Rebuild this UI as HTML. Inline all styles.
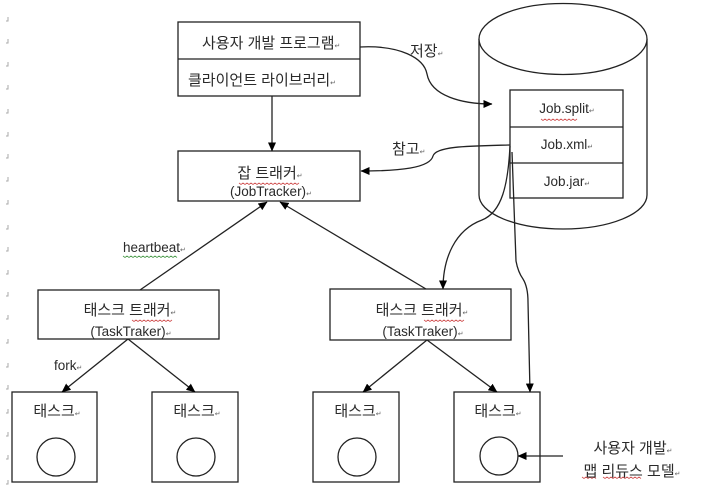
<!DOCTYPE html>
<html><head><meta charset="utf-8"><style>
html,body{margin:0;padding:0;background:#fff;}
svg{display:block;}
text{font-family:"Liberation Sans","Noto Sans CJK KR",sans-serif;font-size:13.5px;fill:#2a2a2a;}
text.k{font-size:15px;}
.p{font-family:"DejaVu Sans",sans-serif;font-size:7px;fill:#666;}
</style></head><body>
<svg width="704" height="491" viewBox="0 0 704 491" xmlns="http://www.w3.org/2000/svg">
<defs>
<marker id="a" markerWidth="9" markerHeight="8" refX="8.5" refY="4" orient="auto" markerUnits="userSpaceOnUse">
<path d="M0,0 L9,4 L0,8 Z" fill="#000"/></marker>
</defs>
<!-- left margin marks -->
<g stroke="#aaa" stroke-width="1" fill="none">
<path d="M8,17 L8,21 L6,21"/><path d="M8,39 L8,43 L6,43"/><path d="M8,62 L8,66 L6,66"/><path d="M8,85 L8,89 L6,89"/><path d="M8,109 L8,113 L6,113"/><path d="M8,132 L8,136 L6,136"/><path d="M8,154 L8,158 L6,158"/><path d="M8,177 L8,181 L6,181"/><path d="M8,200 L8,204 L6,204"/><path d="M8,225 L8,229 L6,229"/><path d="M8,247 L8,251 L6,251"/><path d="M8,270 L8,274 L6,274"/><path d="M8,292 L8,296 L6,296"/><path d="M8,315 L8,319 L6,319"/><path d="M8,339 L8,343 L6,343"/><path d="M8,363 L8,367 L6,367"/><path d="M8,385 L8,389 L6,389"/><path d="M8,409 L8,413 L6,413"/><path d="M8,432 L8,436 L6,436"/><path d="M8,455 L8,459 L6,459"/><path d="M8,480 L8,484 L6,484"/>
</g>

<g fill="none" stroke="#222" stroke-width="1.3">
<!-- cylinder -->
<path d="M479,39 L479,195 A84,34 0 0 0 647,195 L647,39" fill="#fff"/>
<ellipse cx="563" cy="39" rx="84" ry="35.5" fill="#fff"/>
<rect x="510" y="90" width="113" height="108" fill="#fff"/>
<line x1="510" y1="127" x2="623" y2="127"/>
<line x1="510" y1="163" x2="623" y2="163"/>

<!-- top box -->
<rect x="178" y="22" width="182" height="74" fill="#fff"/>
<line x1="178" y1="59" x2="360" y2="59"/>
<!-- job tracker -->
<rect x="178" y="151" width="182" height="50" fill="#fff"/>
<!-- task trackers -->
<rect x="38" y="290" width="181" height="49" fill="#fff"/>
<rect x="330" y="289" width="181" height="51" fill="#fff"/>
<!-- task boxes -->
<rect x="12" y="392" width="85" height="90"/>
<rect x="152" y="392" width="86" height="90"/>
<rect x="313" y="392" width="86" height="90"/>
<rect x="454" y="392" width="86" height="90"/>
<circle cx="56" cy="457" r="19"/>
<circle cx="196" cy="457" r="19"/>
<circle cx="357" cy="457" r="19"/>
<circle cx="499" cy="456" r="19"/>

<!-- arrows -->
<line x1="272" y1="96" x2="272" y2="151" marker-end="url(#a)"/>
<line x1="140" y1="290" x2="267" y2="202" marker-end="url(#a)"/>
<line x1="426" y1="289" x2="280" y2="202" marker-end="url(#a)"/>
<line x1="128" y1="339" x2="62" y2="392" marker-end="url(#a)"/>
<line x1="128" y1="339" x2="195" y2="392" marker-end="url(#a)"/>
<line x1="427" y1="340" x2="363" y2="392" marker-end="url(#a)"/>
<line x1="427" y1="340" x2="497" y2="392" marker-end="url(#a)"/>
<path d="M360,47 C400,45 424,58 427,74 C431,96 462,104 492,104" marker-end="url(#a)"/>
<path d="M510,145 C470,146 436,146 433,156 C430,168 400,171 361,171" marker-end="url(#a)"/>
<path d="M510,146 C508,185 502,212 482,220 C455,230 443,258 443,289" marker-end="url(#a)"/>
<path d="M512,152 L516,261 Q518,272 523,279 Q528,287 528,302 L530,392" marker-end="url(#a)"/>
<line x1="563" y1="456" x2="518" y2="456" marker-end="url(#a)"/>
</g>

<!-- spellcheck squiggles -->
<g fill="none" stroke-width="0.8">
<path d="M239,183 l2,1.5 l2,-1.5 l2,1.5 l2,-1.5 l2,1.5 l2,-1.5 l2,1.5 l2,-1.5 l2,1.5 l2,-1.5 l2,1.5 l2,-1.5 l2,1.5 l2,-1.5 l2,1.5 l2,-1.5 l2,1.5 l2,-1.5 l2,1.5 l2,-1.5 l2,1.5 l2,-1.5 l2,1.5 l2,-1.5 l2,1.5 l2,-1.5 l2,1.5 l2,-1.5 l2,1.5 l2,-1.5" stroke="#d05050"/>
<path d="M541,119 l2,1.5 l2,-1.5 l2,1.5 l2,-1.5 l2,1.5 l2,-1.5 l2,1.5 l2,-1.5 l2,1.5 l2,-1.5 l2,1.5 l2,-1.5 l2,1.5 l2,-1.5 l2,1.5 l2,-1.5 l2,1.5 l2,-1.5" stroke="#d05050"/>
<path d="M123,256 l2,1.5 l2,-1.5 l2,1.5 l2,-1.5 l2,1.5 l2,-1.5 l2,1.5 l2,-1.5 l2,1.5 l2,-1.5 l2,1.5 l2,-1.5 l2,1.5 l2,-1.5 l2,1.5 l2,-1.5 l2,1.5 l2,-1.5 l2,1.5 l2,-1.5 l2,1.5 l2,-1.5 l2,1.5 l2,-1.5 l2,1.5 l2,-1.5 l2,1.5" stroke="#4a9a4a"/>
<path d="M132,320 l2,1.5 l2,-1.5 l2,1.5 l2,-1.5 l2,1.5 l2,-1.5 l2,1.5 l2,-1.5 l2,1.5 l2,-1.5 l2,1.5 l2,-1.5 l2,1.5 l2,-1.5 l2,1.5 l2,-1.5 l2,1.5 l2,-1.5 l2,1.5 l2,-1.5" stroke="#d05050"/>
<path d="M424,320 l2,1.5 l2,-1.5 l2,1.5 l2,-1.5 l2,1.5 l2,-1.5 l2,1.5 l2,-1.5 l2,1.5 l2,-1.5 l2,1.5 l2,-1.5 l2,1.5 l2,-1.5 l2,1.5 l2,-1.5 l2,1.5 l2,-1.5 l2,1.5 l2,-1.5" stroke="#d05050"/>
<path d="M582,477 l2,1.5 l2,-1.5 l2,1.5 l2,-1.5 l2,1.5 l2,-1.5 l2,1.5" stroke="#d05050"/>
<path d="M603,477 l2,1.5 l2,-1.5 l2,1.5 l2,-1.5 l2,1.5 l2,-1.5 l2,1.5 l2,-1.5 l2,1.5 l2,-1.5 l2,1.5 l2,-1.5 l2,1.5 l2,-1.5 l2,1.5 l2,-1.5 l2,1.5 l2,-1.5 l2,1.5" stroke="#d05050"/>
</g>

<!-- text -->
<text class="k" x="202" y="48">사용자 개발 프로그램<tspan class="p">↵</tspan></text>
<text class="k" x="188" y="85">클라이언트 라이브러리<tspan class="p">↵</tspan></text>
<text class="k" x="270" y="178" text-anchor="middle">잡 트래커<tspan class="p">↵</tspan></text>
<text x="271" y="196" text-anchor="middle">(JobTracker)<tspan class="p">↵</tspan></text>
<text class="k" x="410" y="56">저장<tspan class="p">↵</tspan></text>
<text class="k" x="392" y="154">참고<tspan class="p">↵</tspan></text>
<text x="567" y="113" text-anchor="middle">Job.split<tspan class="p">↵</tspan></text>
<text x="567" y="149" text-anchor="middle">Job.xml<tspan class="p">↵</tspan></text>
<text x="567" y="186" text-anchor="middle">Job.jar<tspan class="p">↵</tspan></text>
<text x="123" y="252">heartbeat<tspan class="p">↵</tspan></text>
<text class="k" x="130" y="315" text-anchor="middle">태스크 트래커<tspan class="p">↵</tspan></text>
<text x="131" y="336" text-anchor="middle">(TaskTraker)<tspan class="p">↵</tspan></text>
<text class="k" x="422" y="315" text-anchor="middle">태스크 트래커<tspan class="p">↵</tspan></text>
<text x="423" y="336" text-anchor="middle">(TaskTraker)<tspan class="p">↵</tspan></text>
<text x="54" y="370">fork<tspan class="p">↵</tspan></text>
<text class="k" x="57" y="416" text-anchor="middle">태스크<tspan class="p">↵</tspan></text>
<text class="k" x="197" y="416" text-anchor="middle">태스크<tspan class="p">↵</tspan></text>
<text class="k" x="358" y="416" text-anchor="middle">태스크<tspan class="p">↵</tspan></text>
<text class="k" x="498" y="416" text-anchor="middle">태스크<tspan class="p">↵</tspan></text>
<text class="k" x="633" y="453" text-anchor="middle">사용자 개발<tspan class="p">↵</tspan></text>
<text class="k" x="632" y="476" text-anchor="middle">맵 리듀스 모델<tspan class="p">↵</tspan></text>
</svg>
</body></html>
